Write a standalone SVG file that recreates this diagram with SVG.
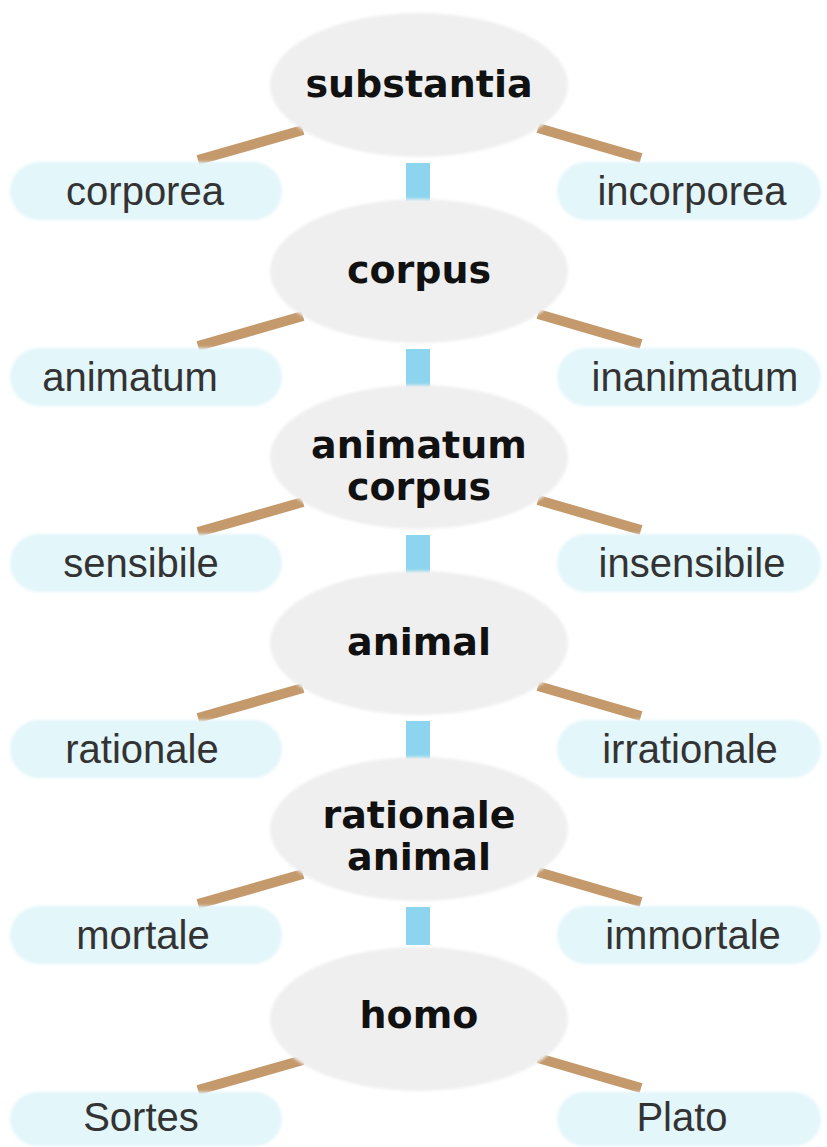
<svg xmlns="http://www.w3.org/2000/svg" width="827" height="1147" viewBox="0 0 827 1147">
<defs>
<filter id="soft" x="-10%" y="-20%" width="120%" height="140%"><feGaussianBlur stdDeviation="1.5"/></filter>
</defs>
<style>
.node{fill:#efefef;filter:url(#soft)}
.pill{fill:#e3f6fa;filter:url(#soft)}
.nt{font-family:"DejaVu Sans",Verdana,sans-serif;font-weight:bold;font-size:38px;fill:#111;text-anchor:middle}
.lt{font-family:"Liberation Sans",Arial,sans-serif;font-size:40px;fill:#333;text-anchor:middle}
.br{stroke:#c49a6c;stroke-width:10;stroke-linecap:butt}
.bl{fill:#8dd5ee}
</style>
<rect width="827" height="1147" fill="#ffffff"/>
<g id="connectors">
<line class="br" x1="303" y1="130" x2="198" y2="160"/><line class="br" x1="538" y1="128" x2="641" y2="158"/><rect class="bl" x="406" y="163" width="24" height="38"/>
<line class="br" x1="303" y1="316" x2="198" y2="346"/><line class="br" x1="538" y1="314" x2="641" y2="344"/><rect class="bl" x="406" y="349" width="24" height="38"/>
<line class="br" x1="303" y1="502" x2="198" y2="532"/><line class="br" x1="538" y1="500" x2="641" y2="530"/><rect class="bl" x="406" y="535" width="24" height="38"/>
<line class="br" x1="303" y1="688" x2="198" y2="718"/><line class="br" x1="538" y1="686" x2="641" y2="716"/><rect class="bl" x="406" y="721" width="24" height="38"/>
<line class="br" x1="303" y1="874" x2="198" y2="904"/><line class="br" x1="538" y1="872" x2="641" y2="902"/><rect class="bl" x="406" y="907" width="24" height="38"/>
<line class="br" x1="303" y1="1060" x2="198" y2="1090"/><line class="br" x1="538" y1="1058" x2="641" y2="1088"/>
</g>
<g id="n-substantia"><ellipse class="node" cx="419" cy="85" rx="149" ry="72"/><text class="nt" x="419" y="97">substantia</text></g>
<g id="n-corporea"><rect class="pill" x="10" y="162" width="272" height="58" rx="29"/><text class="lt" x="145" y="205">corporea</text></g>
<g id="n-incorporea"><rect class="pill" x="557" y="162" width="264" height="58" rx="29"/><text class="lt" x="692" y="205">incorporea</text></g>
<g id="n-corpus"><ellipse class="node" cx="419" cy="271" rx="149" ry="72"/><text class="nt" x="419" y="283">corpus</text></g>
<g id="n-animatum"><rect class="pill" x="10" y="348" width="272" height="58" rx="29"/><text class="lt" x="130" y="391">animatum</text></g>
<g id="n-inanimatum"><rect class="pill" x="557" y="348" width="264" height="58" rx="29"/><text class="lt" x="695" y="391">inanimatum</text></g>
<g id="n-animatum-corpus"><ellipse class="node" cx="419" cy="457" rx="149" ry="72"/><text class="nt" x="419" y="458">animatum</text><text class="nt" x="419" y="500">corpus</text></g>
<g id="n-sensibile"><rect class="pill" x="10" y="534" width="272" height="58" rx="29"/><text class="lt" x="141" y="577">sensibile</text></g>
<g id="n-insensibile"><rect class="pill" x="557" y="534" width="264" height="58" rx="29"/><text class="lt" x="692" y="577">insensibile</text></g>
<g id="n-animal"><ellipse class="node" cx="419" cy="643" rx="149" ry="72"/><text class="nt" x="419" y="655">animal</text></g>
<g id="n-rationale"><rect class="pill" x="10" y="720" width="272" height="58" rx="29"/><text class="lt" x="142" y="763">rationale</text></g>
<g id="n-irrationale"><rect class="pill" x="557" y="720" width="264" height="58" rx="29"/><text class="lt" x="690" y="763">irrationale</text></g>
<g id="n-rationale-animal"><ellipse class="node" cx="419" cy="829" rx="149" ry="72"/><text class="nt" x="419" y="828">rationale</text><text class="nt" x="419" y="870">animal</text></g>
<g id="n-mortale"><rect class="pill" x="10" y="906" width="272" height="58" rx="29"/><text class="lt" x="143" y="949">mortale</text></g>
<g id="n-immortale"><rect class="pill" x="557" y="906" width="264" height="58" rx="29"/><text class="lt" x="693" y="949">immortale</text></g>
<g id="n-homo"><ellipse class="node" cx="419" cy="1019" rx="149" ry="72"/><text class="nt" x="419" y="1028">homo</text></g>
<g id="n-sortes"><rect class="pill" x="10" y="1092" width="272" height="54" rx="27"/><text class="lt" x="141" y="1131">Sortes</text></g>
<g id="n-plato"><rect class="pill" x="557" y="1092" width="264" height="54" rx="27"/><text class="lt" x="682" y="1131">Plato</text></g>
</svg>
